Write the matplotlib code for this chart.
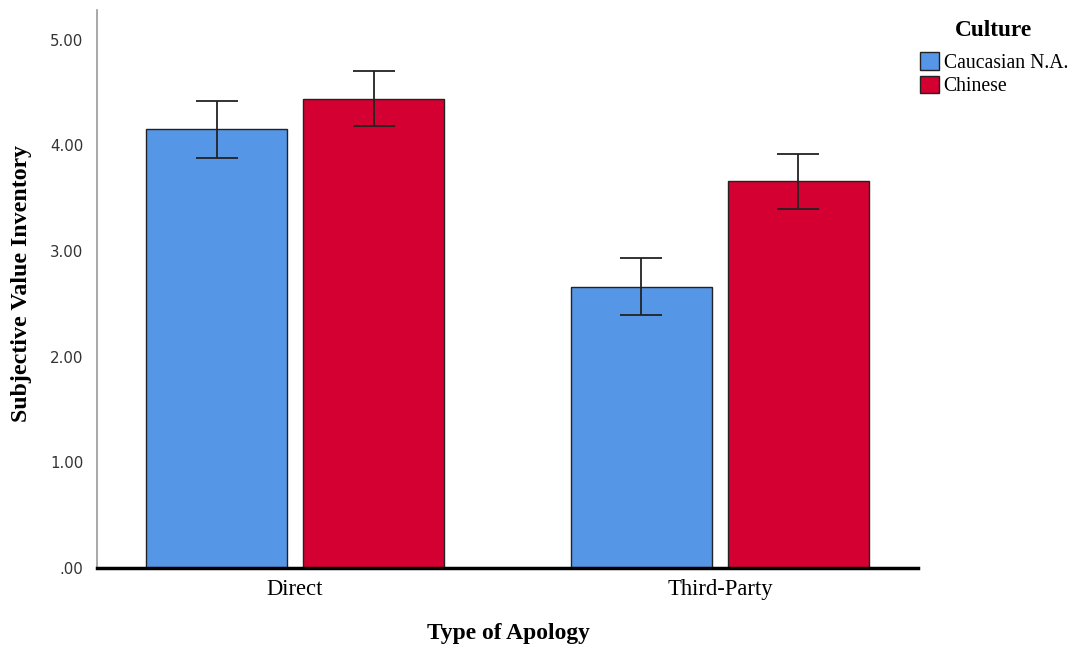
import matplotlib
matplotlib.use("Agg")
import matplotlib.pyplot as plt
import numpy as np
from matplotlib.patches import Patch

categories = ["Direct", "Third-Party"]
series_names = ["Caucasian N.A.", "Chinese"]
caucasian = [4.15, 2.66]
chinese = [4.44, 3.66]
caucasian_err = [0.27, 0.27]
chinese_err = [0.26, 0.26]
yticks = [0, 1, 2, 3, 4, 5]
ytick_labels = [".00", "1.00", "2.00", "3.00", "4.00", "5.00"]

colors = ["#5596E6", "#D50032"]

fig = plt.figure(figsize=(10.72, 6.49), dpi=100)
ax = fig.add_axes([97/1072, 1-568/649, (918-97)/1072, (568-10)/649])

x = np.arange(len(categories))
w = 0.332
off = 0.1847
serif = ["Liberation Serif", "DejaVu Serif"]

for vals, errs, col, o in [(caucasian, caucasian_err, colors[0], -off),
                          (chinese, chinese_err, colors[1], off)]:
    ax.bar(x + o, vals, width=w, color=col, edgecolor="#222222", linewidth=1.0, zorder=2)
    ax.errorbar(x + o, vals, yerr=errs, fmt="none", ecolor="#222222",
                elinewidth=1.3, capsize=14.8, capthick=1.3, zorder=3)

ax.set_xlim(-0.466, 1.466)
ax.set_ylim(0, 5.28)
ax.set_yticks(yticks)
ax.set_yticklabels(ytick_labels, fontsize=10.8, family="DejaVu Sans", color="#333333")
ax.set_xticks(x)
ax.set_xticklabels(categories, fontsize=16.3, family=serif)
ax.tick_params(axis="both", length=0)
ax.tick_params(axis="y", pad=10)
ax.tick_params(axis="x", pad=8)
for s in ["top", "right"]:
    ax.spines[s].set_visible(False)
ax.spines["left"].set_color("#999999")
ax.spines["left"].set_linewidth(1.2)
ax.spines["bottom"].set_color("black")
ax.spines["bottom"].set_linewidth(2.5)
ax.spines["bottom"].set_zorder(4)

fig.text(22/1072, 1-283/649, "Subjective Value Inventory", rotation=90, ha="center", va="center",
         fontsize=17.2, fontweight="bold", family=serif)
fig.text(508/1072, 1-633/649, "Type of Apology", ha="center", va="center",
         fontsize=16.9, fontweight="bold", family=serif)

fig.text(993/1072, 1-30/649, "Culture", ha="center", va="center",
         fontsize=16.8, fontweight="bold", family=serif)
handles = [Patch(facecolor=c, edgecolor="#222222", label=n) for c, n in zip(colors, series_names)]
leg = fig.legend(handles=handles, loc="upper left", bbox_to_anchor=(920/1072, 1-52/649),
                 frameon=False, prop={"family": serif, "size": 14.2},
                 handlelength=0.95, handleheight=1.0, handletextpad=0.25, labelspacing=0.15,
                 borderaxespad=0, borderpad=0)

fig.savefig("out.png", dpi=100)
